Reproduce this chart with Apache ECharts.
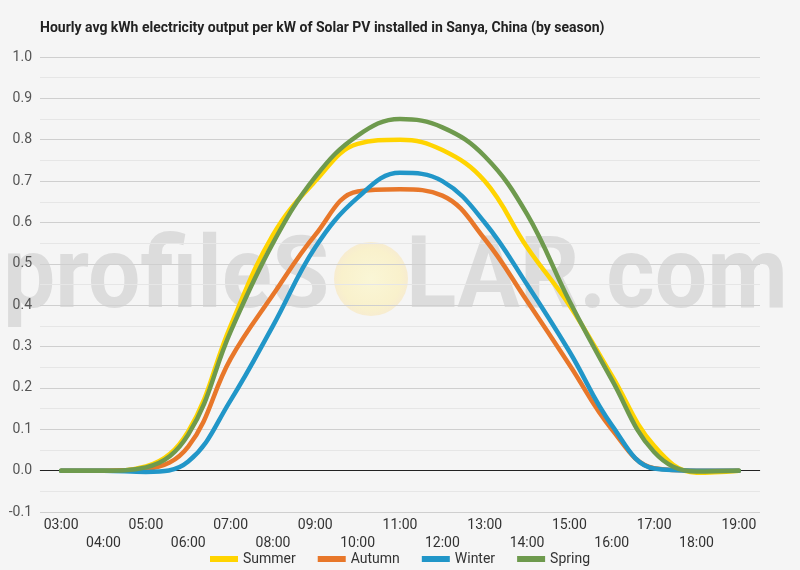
<!DOCTYPE html>
<html>
<head>
<meta charset="utf-8">
<script src="https://cdn.jsdelivr.net/npm/echarts@6/dist/echarts.min.js"></script>
<style>
html,body{margin:0;padding:0;background:#f5f5f5;}
#c{width:800px;height:570px;}
</style>
</head>
<body>
<div id="c"></div>
<script>
var hours = ['03:00','04:00','05:00','06:00','07:00','08:00','09:00','10:00','11:00','12:00','13:00','14:00','15:00','16:00','17:00','18:00','19:00'];
var summer = [0, 0, 0.01, 0.095, 0.35, 0.57, 0.70, 0.79, 0.80, 0.775, 0.70, 0.54, 0.40, 0.23, 0.06, -0.005, 0];
var autumn = [0, 0, 0.004, 0.058, 0.27, 0.425, 0.57, 0.675, 0.68, 0.665, 0.56, 0.41, 0.256, 0.10, 0.006, 0, 0];
var winter = [0, 0, -0.003, 0.022, 0.17, 0.35, 0.54, 0.66, 0.72, 0.70, 0.60, 0.45, 0.288, 0.11, 0.005, 0, 0];
var spring = [0, 0, 0.008, 0.087, 0.336, 0.55, 0.71, 0.81, 0.85, 0.83, 0.76, 0.62, 0.41, 0.22, 0.045, -0.002, 0];
var seriesNames = ['Summer','Autumn','Winter','Spring'];
var seriesColors = ['#FFD400','#E8772A','#2196C8','#6E9A4D'];
var titleText = 'Hourly avg kWh electricity output per kW of Solar PV installed in Sanya, China (by season)';

var chart = echarts.init(document.getElementById('c'), null, {renderer:'canvas'});
var dataSets = [summer, autumn, winter, spring];
var series = dataSets.map(function(d, i){
  var s = {
    name: seriesNames[i],
    type: 'line',
    data: d,
    smooth: 0.4,
    symbol: 'none',
    z: 3 + i,
    lineStyle: {width: 4.5, color: seriesColors[i], cap: 'round', join: 'round'},
    itemStyle: {color: seriesColors[i]}
  };
  if (i === 0) {
    s.markLine = {
      silent: true, symbol: 'none', label: {show: false}, z: 2,
      lineStyle: {color: '#222', width: 1.2, type: 'solid'},
      data: [{yAxis: 0}]
    };
  }
  return s;
});

chart.setOption({
  backgroundColor: '#f5f5f5',
  animation: false,
  title: {
    text: titleText, left: 35, top: 16,
    textStyle: {fontFamily: 'Roboto', fontWeight: 'bold', fontSize: 14, color: '#222'}
  },
  graphic: [
    {type: 'text', z: -10, x: 3, y: 232, scaleX: 0.93, silent: true,
     style: {text: 'profileS', fontFamily: 'Roboto', fontWeight: 'bold', fontSize: 100, fill: '#dcdcdc'}},
    {type: 'circle', z: -10, silent: true, shape: {cx: 371, cy: 279, r: 37},
     style: {fill: {type: 'radial', x: 0.5, y: 0.5, r: 0.5,
       colorStops: [{offset: 0, color: '#faf6d6'}, {offset: 0.8, color: '#f9f1cc'}, {offset: 1, color: '#f7ecd0'}]}}},
    {type: 'text', z: -10, x: 406, y: 232, scaleX: 0.93, silent: true,
     style: {text: 'LAR.com', fontFamily: 'Roboto', fontWeight: 'bold', fontSize: 100, fill: '#dcdcdc'}}
  ],
  legend: {
    top: 552, left: 'center', padding: 0,
    icon: 'rect', itemWidth: 28, itemHeight: 6, itemGap: 22,
    textStyle: {fontFamily: 'Roboto', fontSize: 14, color: '#333'},
    data: seriesNames
  },
  grid: {left: 40, right: 40, top: 57, bottom: 58, containLabel: false},
  xAxis: {
    type: 'category',
    data: hours,
    boundaryGap: true,
    axisLine: {show: true, lineStyle: {color: '#cccccc', width: 1}},
    axisTick: {show: false},
    splitLine: {show: false},
    axisLabel: {
      interval: 0, margin: 4,
      fontFamily: 'Roboto', fontSize: 14, color: '#333', lineHeight: 18,
      formatter: function(v, idx){ return idx % 2 === 1 ? '\n' + v : v; }
    }
  },
  yAxis: {
    type: 'value',
    min: -0.1, max: 1.0, interval: 0.1,
    axisLine: {show: false},
    axisTick: {show: false},
    axisLabel: {
      fontFamily: 'Roboto', fontSize: 14, color: '#555', margin: 8,
      formatter: function(v){ return v.toFixed(1); }
    },
    splitLine: {show: true, lineStyle: {color: '#cfcfcf', width: 1}},
    minorTick: {show: false, splitNumber: 2},
    minorSplitLine: {show: true, lineStyle: {color: '#e6e6e6', width: 1}}
  },
  series: series
});
</script>
</body>
</html>
